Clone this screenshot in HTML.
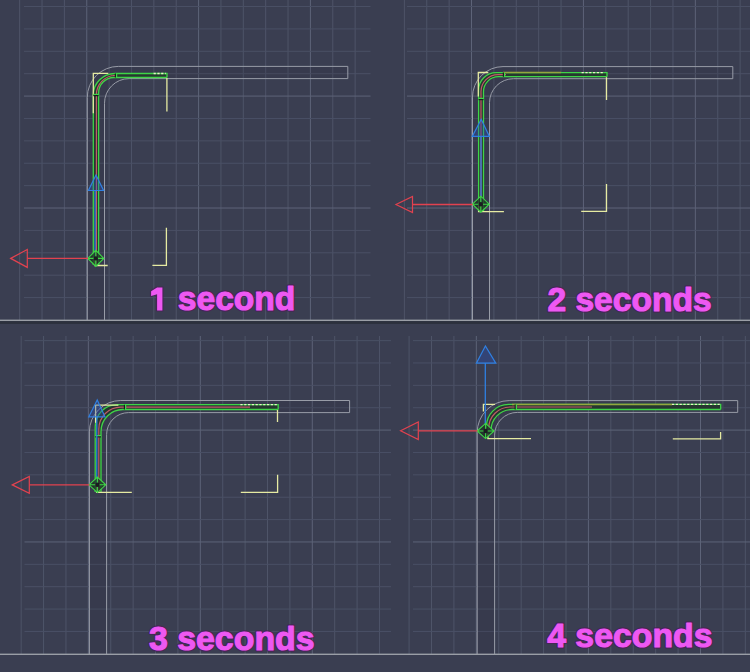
<!DOCTYPE html>
<html><head><meta charset="utf-8"><style>
html,body{margin:0;padding:0;background:#3a3e51;}
body{width:750px;height:672px;overflow:hidden;position:relative;font-family:"Liberation Sans",sans-serif;}
svg{position:absolute;left:0;top:0;}
</style></head><body>
<svg width="750" height="672" viewBox="0 0 750 672">
<rect width="750" height="672" fill="#3a3e51"/>
<line x1="19.65" y1="0.00" x2="19.65" y2="320.00" stroke="#4e5468" stroke-width="1"/>
<line x1="42.02" y1="0.00" x2="42.02" y2="320.00" stroke="#4e5468" stroke-width="1"/>
<line x1="64.38" y1="0.00" x2="64.38" y2="320.00" stroke="#4e5468" stroke-width="1"/>
<line x1="86.75" y1="0.00" x2="86.75" y2="320.00" stroke="#5d6378" stroke-width="1"/>
<line x1="109.11" y1="0.00" x2="109.11" y2="320.00" stroke="#4e5468" stroke-width="1"/>
<line x1="131.48" y1="0.00" x2="131.48" y2="320.00" stroke="#4e5468" stroke-width="1"/>
<line x1="153.85" y1="0.00" x2="153.85" y2="320.00" stroke="#4e5468" stroke-width="1"/>
<line x1="176.21" y1="0.00" x2="176.21" y2="320.00" stroke="#4e5468" stroke-width="1"/>
<line x1="198.58" y1="0.00" x2="198.58" y2="320.00" stroke="#5d6378" stroke-width="1"/>
<line x1="220.94" y1="0.00" x2="220.94" y2="320.00" stroke="#4e5468" stroke-width="1"/>
<line x1="243.31" y1="0.00" x2="243.31" y2="320.00" stroke="#4e5468" stroke-width="1"/>
<line x1="265.68" y1="0.00" x2="265.68" y2="320.00" stroke="#4e5468" stroke-width="1"/>
<line x1="288.04" y1="0.00" x2="288.04" y2="320.00" stroke="#4e5468" stroke-width="1"/>
<line x1="310.41" y1="0.00" x2="310.41" y2="320.00" stroke="#5d6378" stroke-width="1"/>
<line x1="332.77" y1="0.00" x2="332.77" y2="320.00" stroke="#4e5468" stroke-width="1"/>
<line x1="355.14" y1="0.00" x2="355.14" y2="320.00" stroke="#4e5468" stroke-width="1"/>
<line x1="24.00" y1="6.53" x2="370.50" y2="6.53" stroke="#4a5065" stroke-width="1"/>
<line x1="24.00" y1="28.92" x2="370.50" y2="28.92" stroke="#4a5065" stroke-width="1"/>
<line x1="24.00" y1="51.31" x2="370.50" y2="51.31" stroke="#4a5065" stroke-width="1"/>
<line x1="24.00" y1="73.70" x2="370.50" y2="73.70" stroke="#4a5065" stroke-width="1"/>
<line x1="24.00" y1="96.09" x2="370.50" y2="96.09" stroke="#5d6378" stroke-width="1"/>
<line x1="24.00" y1="118.47" x2="370.50" y2="118.47" stroke="#4a5065" stroke-width="1"/>
<line x1="24.00" y1="140.86" x2="370.50" y2="140.86" stroke="#4a5065" stroke-width="1"/>
<line x1="24.00" y1="163.25" x2="370.50" y2="163.25" stroke="#4a5065" stroke-width="1"/>
<line x1="24.00" y1="185.64" x2="370.50" y2="185.64" stroke="#4a5065" stroke-width="1"/>
<line x1="24.00" y1="208.03" x2="370.50" y2="208.03" stroke="#5d6378" stroke-width="1"/>
<line x1="24.00" y1="230.42" x2="370.50" y2="230.42" stroke="#4a5065" stroke-width="1"/>
<line x1="24.00" y1="252.81" x2="370.50" y2="252.81" stroke="#4a5065" stroke-width="1"/>
<line x1="24.00" y1="275.20" x2="370.50" y2="275.20" stroke="#4a5065" stroke-width="1"/>
<line x1="24.00" y1="297.59" x2="370.50" y2="297.59" stroke="#4a5065" stroke-width="1"/>
<line x1="404.36" y1="0.00" x2="404.36" y2="320.00" stroke="#4e5468" stroke-width="1"/>
<line x1="426.74" y1="0.00" x2="426.74" y2="320.00" stroke="#4e5468" stroke-width="1"/>
<line x1="449.13" y1="0.00" x2="449.13" y2="320.00" stroke="#4e5468" stroke-width="1"/>
<line x1="471.51" y1="0.00" x2="471.51" y2="320.00" stroke="#5d6378" stroke-width="1"/>
<line x1="493.90" y1="0.00" x2="493.90" y2="320.00" stroke="#4e5468" stroke-width="1"/>
<line x1="516.28" y1="0.00" x2="516.28" y2="320.00" stroke="#4e5468" stroke-width="1"/>
<line x1="538.66" y1="0.00" x2="538.66" y2="320.00" stroke="#4e5468" stroke-width="1"/>
<line x1="561.05" y1="0.00" x2="561.05" y2="320.00" stroke="#4e5468" stroke-width="1"/>
<line x1="583.43" y1="0.00" x2="583.43" y2="320.00" stroke="#5d6378" stroke-width="1"/>
<line x1="605.82" y1="0.00" x2="605.82" y2="320.00" stroke="#4e5468" stroke-width="1"/>
<line x1="628.20" y1="0.00" x2="628.20" y2="320.00" stroke="#4e5468" stroke-width="1"/>
<line x1="650.58" y1="0.00" x2="650.58" y2="320.00" stroke="#4e5468" stroke-width="1"/>
<line x1="672.97" y1="0.00" x2="672.97" y2="320.00" stroke="#4e5468" stroke-width="1"/>
<line x1="695.35" y1="0.00" x2="695.35" y2="320.00" stroke="#5d6378" stroke-width="1"/>
<line x1="717.74" y1="0.00" x2="717.74" y2="320.00" stroke="#4e5468" stroke-width="1"/>
<line x1="740.12" y1="0.00" x2="740.12" y2="320.00" stroke="#4e5468" stroke-width="1"/>
<line x1="407.00" y1="6.53" x2="750.00" y2="6.53" stroke="#4a5065" stroke-width="1"/>
<line x1="407.00" y1="28.92" x2="750.00" y2="28.92" stroke="#4a5065" stroke-width="1"/>
<line x1="407.00" y1="51.31" x2="750.00" y2="51.31" stroke="#4a5065" stroke-width="1"/>
<line x1="407.00" y1="73.70" x2="750.00" y2="73.70" stroke="#4a5065" stroke-width="1"/>
<line x1="407.00" y1="96.09" x2="750.00" y2="96.09" stroke="#5d6378" stroke-width="1"/>
<line x1="407.00" y1="118.47" x2="750.00" y2="118.47" stroke="#4a5065" stroke-width="1"/>
<line x1="407.00" y1="140.86" x2="750.00" y2="140.86" stroke="#4a5065" stroke-width="1"/>
<line x1="407.00" y1="163.25" x2="750.00" y2="163.25" stroke="#4a5065" stroke-width="1"/>
<line x1="407.00" y1="185.64" x2="750.00" y2="185.64" stroke="#4a5065" stroke-width="1"/>
<line x1="407.00" y1="208.03" x2="750.00" y2="208.03" stroke="#5d6378" stroke-width="1"/>
<line x1="407.00" y1="230.42" x2="750.00" y2="230.42" stroke="#4a5065" stroke-width="1"/>
<line x1="407.00" y1="252.81" x2="750.00" y2="252.81" stroke="#4a5065" stroke-width="1"/>
<line x1="407.00" y1="275.20" x2="750.00" y2="275.20" stroke="#4a5065" stroke-width="1"/>
<line x1="407.00" y1="297.59" x2="750.00" y2="297.59" stroke="#4a5065" stroke-width="1"/>
<line x1="21.17" y1="336.00" x2="21.17" y2="654.00" stroke="#4e5468" stroke-width="1"/>
<line x1="43.56" y1="336.00" x2="43.56" y2="654.00" stroke="#4e5468" stroke-width="1"/>
<line x1="65.96" y1="336.00" x2="65.96" y2="654.00" stroke="#4e5468" stroke-width="1"/>
<line x1="88.35" y1="336.00" x2="88.35" y2="654.00" stroke="#5d6378" stroke-width="1"/>
<line x1="110.75" y1="336.00" x2="110.75" y2="654.00" stroke="#4e5468" stroke-width="1"/>
<line x1="133.14" y1="336.00" x2="133.14" y2="654.00" stroke="#4e5468" stroke-width="1"/>
<line x1="155.53" y1="336.00" x2="155.53" y2="654.00" stroke="#4e5468" stroke-width="1"/>
<line x1="177.93" y1="336.00" x2="177.93" y2="654.00" stroke="#4e5468" stroke-width="1"/>
<line x1="200.32" y1="336.00" x2="200.32" y2="654.00" stroke="#5d6378" stroke-width="1"/>
<line x1="222.72" y1="336.00" x2="222.72" y2="654.00" stroke="#4e5468" stroke-width="1"/>
<line x1="245.11" y1="336.00" x2="245.11" y2="654.00" stroke="#4e5468" stroke-width="1"/>
<line x1="267.50" y1="336.00" x2="267.50" y2="654.00" stroke="#4e5468" stroke-width="1"/>
<line x1="289.90" y1="336.00" x2="289.90" y2="654.00" stroke="#4e5468" stroke-width="1"/>
<line x1="312.29" y1="336.00" x2="312.29" y2="654.00" stroke="#5d6378" stroke-width="1"/>
<line x1="334.69" y1="336.00" x2="334.69" y2="654.00" stroke="#4e5468" stroke-width="1"/>
<line x1="357.08" y1="336.00" x2="357.08" y2="654.00" stroke="#4e5468" stroke-width="1"/>
<line x1="379.47" y1="336.00" x2="379.47" y2="654.00" stroke="#4e5468" stroke-width="1"/>
<line x1="24.50" y1="340.61" x2="391.00" y2="340.61" stroke="#4a5065" stroke-width="1"/>
<line x1="24.50" y1="362.98" x2="391.00" y2="362.98" stroke="#4a5065" stroke-width="1"/>
<line x1="24.50" y1="385.35" x2="391.00" y2="385.35" stroke="#4a5065" stroke-width="1"/>
<line x1="24.50" y1="407.73" x2="391.00" y2="407.73" stroke="#4a5065" stroke-width="1"/>
<line x1="24.50" y1="430.10" x2="391.00" y2="430.10" stroke="#5d6378" stroke-width="1"/>
<line x1="24.50" y1="452.47" x2="391.00" y2="452.47" stroke="#4a5065" stroke-width="1"/>
<line x1="24.50" y1="474.84" x2="391.00" y2="474.84" stroke="#4a5065" stroke-width="1"/>
<line x1="24.50" y1="497.21" x2="391.00" y2="497.21" stroke="#4a5065" stroke-width="1"/>
<line x1="24.50" y1="519.59" x2="391.00" y2="519.59" stroke="#4a5065" stroke-width="1"/>
<line x1="24.50" y1="541.96" x2="391.00" y2="541.96" stroke="#5d6378" stroke-width="1"/>
<line x1="24.50" y1="564.33" x2="391.00" y2="564.33" stroke="#4a5065" stroke-width="1"/>
<line x1="24.50" y1="586.70" x2="391.00" y2="586.70" stroke="#4a5065" stroke-width="1"/>
<line x1="24.50" y1="609.07" x2="391.00" y2="609.07" stroke="#4a5065" stroke-width="1"/>
<line x1="24.50" y1="631.45" x2="391.00" y2="631.45" stroke="#4a5065" stroke-width="1"/>
<line x1="409.09" y1="336.00" x2="409.09" y2="654.00" stroke="#4e5468" stroke-width="1"/>
<line x1="431.51" y1="336.00" x2="431.51" y2="654.00" stroke="#4e5468" stroke-width="1"/>
<line x1="453.92" y1="336.00" x2="453.92" y2="654.00" stroke="#4e5468" stroke-width="1"/>
<line x1="476.34" y1="336.00" x2="476.34" y2="654.00" stroke="#5d6378" stroke-width="1"/>
<line x1="498.75" y1="336.00" x2="498.75" y2="654.00" stroke="#4e5468" stroke-width="1"/>
<line x1="521.17" y1="336.00" x2="521.17" y2="654.00" stroke="#4e5468" stroke-width="1"/>
<line x1="543.59" y1="336.00" x2="543.59" y2="654.00" stroke="#4e5468" stroke-width="1"/>
<line x1="566.00" y1="336.00" x2="566.00" y2="654.00" stroke="#4e5468" stroke-width="1"/>
<line x1="588.42" y1="336.00" x2="588.42" y2="654.00" stroke="#5d6378" stroke-width="1"/>
<line x1="610.83" y1="336.00" x2="610.83" y2="654.00" stroke="#4e5468" stroke-width="1"/>
<line x1="633.25" y1="336.00" x2="633.25" y2="654.00" stroke="#4e5468" stroke-width="1"/>
<line x1="655.67" y1="336.00" x2="655.67" y2="654.00" stroke="#4e5468" stroke-width="1"/>
<line x1="678.08" y1="336.00" x2="678.08" y2="654.00" stroke="#4e5468" stroke-width="1"/>
<line x1="700.50" y1="336.00" x2="700.50" y2="654.00" stroke="#5d6378" stroke-width="1"/>
<line x1="722.91" y1="336.00" x2="722.91" y2="654.00" stroke="#4e5468" stroke-width="1"/>
<line x1="745.33" y1="336.00" x2="745.33" y2="654.00" stroke="#4e5468" stroke-width="1"/>
<line x1="413.00" y1="340.61" x2="750.00" y2="340.61" stroke="#4a5065" stroke-width="1"/>
<line x1="413.00" y1="362.98" x2="750.00" y2="362.98" stroke="#4a5065" stroke-width="1"/>
<line x1="413.00" y1="385.35" x2="750.00" y2="385.35" stroke="#4a5065" stroke-width="1"/>
<line x1="413.00" y1="407.73" x2="750.00" y2="407.73" stroke="#4a5065" stroke-width="1"/>
<line x1="413.00" y1="430.10" x2="750.00" y2="430.10" stroke="#5d6378" stroke-width="1"/>
<line x1="413.00" y1="452.47" x2="750.00" y2="452.47" stroke="#4a5065" stroke-width="1"/>
<line x1="413.00" y1="474.84" x2="750.00" y2="474.84" stroke="#4a5065" stroke-width="1"/>
<line x1="413.00" y1="497.21" x2="750.00" y2="497.21" stroke="#4a5065" stroke-width="1"/>
<line x1="413.00" y1="519.59" x2="750.00" y2="519.59" stroke="#4a5065" stroke-width="1"/>
<line x1="413.00" y1="541.96" x2="750.00" y2="541.96" stroke="#5d6378" stroke-width="1"/>
<line x1="413.00" y1="564.33" x2="750.00" y2="564.33" stroke="#4a5065" stroke-width="1"/>
<line x1="413.00" y1="586.70" x2="750.00" y2="586.70" stroke="#4a5065" stroke-width="1"/>
<line x1="413.00" y1="609.07" x2="750.00" y2="609.07" stroke="#4a5065" stroke-width="1"/>
<line x1="413.00" y1="631.45" x2="750.00" y2="631.45" stroke="#4a5065" stroke-width="1"/>
<path d="M87.3,320 L87.3,97.4 A31,31 0 0 1 118.3,66.4 L347.8,66.4 L347.8,78.6 L129.1,78.6 A24.6,24.6 0 0 0 104.5,103.2 L104.5,320 Z" fill="#2a2d3e" fill-opacity="0.18" stroke="none"/>
<path d="M87.3,320 L87.3,97.4 A31,31 0 0 1 118.3,66.4 L347.8,66.4 L347.8,78.6 L129.1,78.6 A24.6,24.6 0 0 0 104.5,103.2 L104.5,320" stroke="#989ca7" stroke-width="1.0" fill="none"/>
<path d="M93.3,265 L93.3,95.1 A21.6,21.6 0 0 1 114.9,73.5 L167,73.5 L167,77.5 L114.0,77.5 A15.4,15.4 0 0 0 98.6,92.9 L98.6,265 Z" fill="#26372f" stroke="none"/>
<path d="M96.4,265 L96.4,94.5 A19,19 0 0 1 115.4,75.5 L113,75.5" stroke="#c25a6a" stroke-width="1.2" fill="none"/>
<path d="M93.3,265 L93.3,95.1 A21.6,21.6 0 0 1 114.9,73.5 L167,73.5 L167,77.5" stroke="#3fd447" stroke-width="1.3" fill="none"/>
<path d="M98.6,265 L98.6,92.9 A15.4,15.4 0 0 1 114.0,77.5 L167,77.5" stroke="#3fd447" stroke-width="1.3" fill="none"/>
<line x1="153.60" y1="73.50" x2="165.70" y2="73.50" stroke="#e8f0c8" stroke-width="1.3" stroke-dasharray="2.2 1.6"/>
<path d="M108.3,73.3 L93.3,73.3 L93.3,113.3" stroke="#e6eba2" stroke-width="1.3" fill="none"/>
<line x1="166.90" y1="78.00" x2="166.90" y2="111.50" stroke="#e6eba2" stroke-width="1.3"/>
<path d="M152.4,265.4 L166.4,265.4 L166.4,227.8" stroke="#e6eba2" stroke-width="1.3" fill="none"/>
<path d="M107.7,265.5 L95,265.5 L95,257.5" stroke="#e6eba2" stroke-width="1.3" fill="none"/>
<line x1="115.40" y1="73.50" x2="115.40" y2="77.50" stroke="#15201a" stroke-width="1.2"/>
<line x1="116.60" y1="73.50" x2="116.60" y2="77.50" stroke="#3fd447" stroke-width="1.2"/>
<line x1="93.30" y1="95.60" x2="98.60" y2="95.60" stroke="#15201a" stroke-width="1.2"/>
<line x1="93.30" y1="94.40" x2="98.60" y2="94.40" stroke="#3fd447" stroke-width="1.2"/>
<path d="M96,175 L88.4,190.5 L103.6,190.5 Z" stroke="#2f80e2" stroke-width="1.2" fill="rgba(40,80,190,0.35)"/>
<line x1="95.10" y1="190.50" x2="95.10" y2="258.00" stroke="#2f80e2" stroke-width="1.3"/>
<path d="M87.8,258.4 L95.8,250.4 L103.8,258.4 L95.8,266.4 Z" fill="#1e3326" fill-opacity="0.8"/>
<path d="M87.8,258.4 L95.8,250.4 L103.8,258.4 L95.8,266.4 Z M87.8,258.4 L103.8,258.4 M95.8,250.4 L95.8,266.4" stroke="#3fd447" stroke-width="1.1" fill="none"/>
<circle cx="95.8" cy="258.4" r="2.2" fill="#1a1c20"/>
<path d="M10.7,258.4 L27.3,249.4 L27.3,267.4 Z" stroke="#e2424f" stroke-width="1.2" fill="none"/>
<line x1="27.30" y1="258.40" x2="88.00" y2="258.40" stroke="#e2424f" stroke-width="1.3"/>
<path d="M157.1,287.6 L162.4,287.6 L162.4,310.4 L157.1,310.4 L157.1,294.2 L151.1,296.0 L151.1,291.2 Z" fill="#4a1f58" stroke="#4a1f58" stroke-width="2.3" stroke-linejoin="round" opacity="0.75"/>
<path d="M157.1,287.6 L162.4,287.6 L162.4,310.4 L157.1,310.4 L157.1,294.2 L151.1,296.0 L151.1,291.2 Z" fill="#ee58f2"/>
<text x="177.8" y="310.2" font-family="Liberation Sans" font-weight="bold" font-size="33.6" fill="#4a1f58" stroke="#4a1f58" stroke-width="3.4" stroke-linejoin="round" opacity="0.75">second</text>
<text x="177.8" y="310.2" font-family="Liberation Sans" font-weight="bold" font-size="33.6" fill="#ee58f2" stroke="#ee58f2" stroke-width="1.1" stroke-linejoin="round">second</text>
<path d="M472.5,320 L472.5,97.1 A30.5,30.5 0 0 1 503.0,66.6 L732.8,66.6 L732.8,78.7 L513.5,78.7 A24,24 0 0 0 489.5,102.7 L489.5,320 Z" fill="#2a2d3e" fill-opacity="0.18" stroke="none"/>
<path d="M472.5,320 L472.5,97.1 A30.5,30.5 0 0 1 503.0,66.6 L732.8,66.6 L732.8,78.7 L513.5,78.7 A24,24 0 0 0 489.5,102.7 L489.5,320" stroke="#989ca7" stroke-width="1.0" fill="none"/>
<path d="M478.6,212 L478.6,90.2 A17.6,17.6 0 0 1 496.2,72.6 L607,72.6 L607,76.7 L498.5,76.7 A15,15 0 0 0 483.5,91.7 L483.5,212 Z" fill="#26372f" stroke="none"/>
<path d="M481,212 L481,91.6 A17,17 0 0 1 498,74.6 L506,74.6" stroke="#c25a6a" stroke-width="1.2" fill="none"/>
<path d="M478.6,212 L478.6,90.2 A17.6,17.6 0 0 1 496.2,72.6 L607,72.6 L607,76.7" stroke="#3fd447" stroke-width="1.3" fill="none"/>
<path d="M483.5,212 L483.5,91.7 A15,15 0 0 1 498.5,76.7 L607,76.7" stroke="#3fd447" stroke-width="1.3" fill="none"/>
<line x1="503.00" y1="72.60" x2="561.00" y2="72.60" stroke="#93a83e" stroke-width="1.5"/>
<line x1="581.60" y1="72.60" x2="604.00" y2="72.60" stroke="#e8f0c8" stroke-width="1.3" stroke-dasharray="2.2 1.6"/>
<path d="M488.3,72.5 L478.3,72.5 L478.3,96.5" stroke="#e6eba2" stroke-width="1.3" fill="none"/>
<line x1="606.50" y1="77.20" x2="606.50" y2="100.00" stroke="#e6eba2" stroke-width="1.3"/>
<path d="M581.2,211.3 L606.5,211.3 L606.5,184.1" stroke="#e6eba2" stroke-width="1.3" fill="none"/>
<path d="M503.9,211.6 L478.6,211.6 L478.6,205.6" stroke="#e6eba2" stroke-width="1.3" fill="none"/>
<line x1="503.40" y1="72.60" x2="503.40" y2="76.70" stroke="#15201a" stroke-width="1.2"/>
<line x1="504.60" y1="72.60" x2="504.60" y2="76.70" stroke="#3fd447" stroke-width="1.2"/>
<line x1="478.60" y1="99.60" x2="483.50" y2="99.60" stroke="#15201a" stroke-width="1.2"/>
<line x1="478.60" y1="98.40" x2="483.50" y2="98.40" stroke="#3fd447" stroke-width="1.2"/>
<path d="M481.2,119.3 L472.3,136.4 L489.4,136.4 Z" stroke="#2f80e2" stroke-width="1.2" fill="rgba(40,80,190,0.35)"/>
<line x1="481.00" y1="136.40" x2="481.00" y2="204.00" stroke="#2f80e2" stroke-width="1.3"/>
<path d="M472.4,204.2 L480.8,196.2 L489.2,204.2 L480.8,212.2 Z" fill="#1e3326" fill-opacity="0.8"/>
<path d="M472.4,204.2 L480.8,196.2 L489.2,204.2 L480.8,212.2 Z M472.4,204.2 L489.2,204.2 M480.8,196.2 L480.8,212.2" stroke="#3fd447" stroke-width="1.1" fill="none"/>
<circle cx="480.8" cy="204.2" r="2.2" fill="#1a1c20"/>
<path d="M396,204.5 L412.5,196.5 L412.5,212.5 Z" stroke="#e2424f" stroke-width="1.2" fill="none"/>
<line x1="412.50" y1="204.50" x2="472.60" y2="204.50" stroke="#e2424f" stroke-width="1.3"/>
<text x="547.4" y="310.5" font-family="Liberation Sans" font-weight="bold" font-size="33.6" fill="#4a1f58" stroke="#4a1f58" stroke-width="3.4" stroke-linejoin="round" opacity="0.75">2 seconds</text>
<text x="547.4" y="310.5" font-family="Liberation Sans" font-weight="bold" font-size="33.6" fill="#ee58f2" stroke="#ee58f2" stroke-width="1.1" stroke-linejoin="round">2 seconds</text>
<path d="M89.4,654 L89.4,431.9 A31.4,31.4 0 0 1 120.8,400.5 L349.6,400.5 L349.6,412.6 L128.6,412.6 A22,22 0 0 0 106.6,434.6 L106.6,654 Z" fill="#2a2d3e" fill-opacity="0.18" stroke="none"/>
<path d="M89.4,654 L89.4,431.9 A31.4,31.4 0 0 1 120.8,400.5 L349.6,400.5 L349.6,412.6 L128.6,412.6 A22,22 0 0 0 106.6,434.6 L106.6,654" stroke="#989ca7" stroke-width="1.0" fill="none"/>
<path d="M95.2,492 L95.2,426.7 A22,22 0 0 1 117.2,404.7 L278.2,404.7 L278.2,409.5 L123,409.5 A22,22 0 0 0 101,431.5 L101,492 Z" fill="#26372f" stroke="none"/>
<path d="M98.8,492 L98.8,429.1 A22,22 0 0 1 120.8,407.1 L250,407.1" stroke="#c25a6a" stroke-width="1.2" fill="none"/>
<path d="M95.2,492 L95.2,426.7 A22,22 0 0 1 117.2,404.7 L278.2,404.7 L278.2,409.5" stroke="#3fd447" stroke-width="1.3" fill="none"/>
<path d="M101,492 L101,431.5 A22,22 0 0 1 123,409.5 L278.2,409.5" stroke="#3fd447" stroke-width="1.3" fill="none"/>
<line x1="240.40" y1="404.70" x2="277.70" y2="404.70" stroke="#e8f0c8" stroke-width="1.3" stroke-dasharray="2.2 1.6"/>
<path d="M118.4,405.2 L95.6,405.2 L95.6,422.8" stroke="#e6eba2" stroke-width="1.3" fill="none"/>
<line x1="277.50" y1="410.00" x2="277.50" y2="422.00" stroke="#e6eba2" stroke-width="1.3"/>
<path d="M240.8,492.4 L277.6,492.4 L277.6,474.8" stroke="#e6eba2" stroke-width="1.3" fill="none"/>
<path d="M131.8,492.4 L96.6,492.4 L96.6,486.4" stroke="#e6eba2" stroke-width="1.3" fill="none"/>
<line x1="124.40" y1="404.70" x2="124.40" y2="409.50" stroke="#15201a" stroke-width="1.2"/>
<line x1="125.60" y1="404.70" x2="125.60" y2="409.50" stroke="#3fd447" stroke-width="1.2"/>
<line x1="95.20" y1="436.80" x2="101.00" y2="436.80" stroke="#15201a" stroke-width="1.2"/>
<line x1="95.20" y1="435.60" x2="101.00" y2="435.60" stroke="#3fd447" stroke-width="1.2"/>
<path d="M97.2,400 L88.8,416.8 L105,416.8 Z" stroke="#2f80e2" stroke-width="1.2" fill="rgba(40,80,190,0.35)"/>
<line x1="96.80" y1="416.80" x2="96.80" y2="484.80" stroke="#2f80e2" stroke-width="1.3"/>
<path d="M89.0,484.8 L97.4,477.0 L105.8,484.8 L97.4,492.6 Z" fill="#1e3326" fill-opacity="0.8"/>
<path d="M89.0,484.8 L97.4,477.0 L105.8,484.8 L97.4,492.6 Z M89.0,484.8 L105.8,484.8 M97.4,477.0 L97.4,492.6" stroke="#3fd447" stroke-width="1.1" fill="none"/>
<circle cx="97.4" cy="484.8" r="2.2" fill="#1a1c20"/>
<path d="M12.3,484.9 L29.3,476.4 L29.3,493.4 Z" stroke="#e2424f" stroke-width="1.2" fill="none"/>
<line x1="29.30" y1="484.90" x2="89.40" y2="484.90" stroke="#e2424f" stroke-width="1.3"/>
<text x="148.9" y="650.3" font-family="Liberation Sans" font-weight="bold" font-size="33.9" fill="#4a1f58" stroke="#4a1f58" stroke-width="3.4" stroke-linejoin="round" opacity="0.75">3 seconds</text>
<text x="148.9" y="650.3" font-family="Liberation Sans" font-weight="bold" font-size="33.9" fill="#ee58f2" stroke="#ee58f2" stroke-width="1.1" stroke-linejoin="round">3 seconds</text>
<path d="M477.2,654 L477.2,432.6 A32,32 0 0 1 509.2,400.6 L737.7,400.6 L737.7,412.4 L517.3,412.4 A22.7,22.7 0 0 0 494.6,435.1 L494.6,654 Z" fill="#2a2d3e" fill-opacity="0.18" stroke="none"/>
<path d="M477.2,654 L477.2,432.6 A32,32 0 0 1 509.2,400.6 L737.7,400.6 L737.7,412.4 L517.3,412.4 A22.7,22.7 0 0 0 494.6,435.1 L494.6,654" stroke="#989ca7" stroke-width="1.0" fill="none"/>
<path d="M486.5,428 L486.5,426.4 A22,22 0 0 1 508.5,404.4 L720.7,404.4 L720.7,409.5 L512,409.5 A21,21 0 0 0 491,430.5 L491,428 Z" fill="#26372f" stroke="none"/>
<path d="M488.7,428 L488.7,428.5 A21.5,21.5 0 0 1 510.2,407 L592,407" stroke="#c25a6a" stroke-width="1.2" fill="none"/>
<path d="M486.5,428 L486.5,426.4 A22,22 0 0 1 508.5,404.4 L720.7,404.4 L720.7,409.5" stroke="#3fd447" stroke-width="1.3" fill="none"/>
<path d="M491,428 L491,430.5 A21,21 0 0 1 512,409.5 L720.7,409.5" stroke="#3fd447" stroke-width="1.3" fill="none"/>
<line x1="512.00" y1="404.40" x2="672.00" y2="404.40" stroke="#93a83e" stroke-width="1.5"/>
<line x1="672.00" y1="404.40" x2="719.70" y2="404.40" stroke="#e8f0c8" stroke-width="1.3" stroke-dasharray="2.2 1.6"/>
<path d="M495.0,404.3 L483.4,404.3 L483.4,411.4" stroke="#e6eba2" stroke-width="1.3" fill="none"/>
<path d="M672.8,438.9 L720.6,438.9 L720.6,432.1" stroke="#e6eba2" stroke-width="1.3" fill="none"/>
<path d="M531.0,438.7 L487.9,438.7 L487.9,433.7" stroke="#e6eba2" stroke-width="1.3" fill="none"/>
<line x1="515.20" y1="404.40" x2="515.20" y2="409.50" stroke="#15201a" stroke-width="1.2"/>
<line x1="516.40" y1="404.40" x2="516.40" y2="409.50" stroke="#3fd447" stroke-width="1.2"/>
<path d="M485.4,346 L476.4,363.1 L495.8,363.1 Z" stroke="#2f80e2" stroke-width="1.2" fill="rgba(40,80,190,0.35)"/>
<line x1="485.30" y1="363.10" x2="485.30" y2="424.00" stroke="#2f80e2" stroke-width="1.3"/>
<path d="M477.1,431 L485.6,423.4 L494.1,431 L485.6,438.6 Z" fill="#1e3326" fill-opacity="0.8"/>
<path d="M477.1,431 L485.6,423.4 L494.1,431 L485.6,438.6 Z M477.1,431 L494.1,431 M485.6,423.4 L485.6,438.6" stroke="#3fd447" stroke-width="1.1" fill="none"/>
<circle cx="485.6" cy="431" r="2.2" fill="#1a1c20"/>
<path d="M400.6,430.8 L418.3,422.0 L418.3,439.6 Z" stroke="#e2424f" stroke-width="1.2" fill="none"/>
<line x1="418.30" y1="430.80" x2="477.60" y2="430.80" stroke="#e2424f" stroke-width="1.3"/>
<text x="547.2" y="647.3" font-family="Liberation Sans" font-weight="bold" font-size="33.8" fill="#4a1f58" stroke="#4a1f58" stroke-width="3.4" stroke-linejoin="round" opacity="0.75">4 seconds</text>
<text x="547.2" y="647.3" font-family="Liberation Sans" font-weight="bold" font-size="33.8" fill="#ee58f2" stroke="#ee58f2" stroke-width="1.1" stroke-linejoin="round">4 seconds</text>
<rect x="0" y="319.6" width="750" height="1.5" fill="#9a9ea6"/>
<rect x="0" y="321.1" width="750" height="2.8" fill="#2c303c"/>
<rect x="0" y="653.6" width="750" height="1.4" fill="#9a9ea6"/>
</svg>
</body></html>
